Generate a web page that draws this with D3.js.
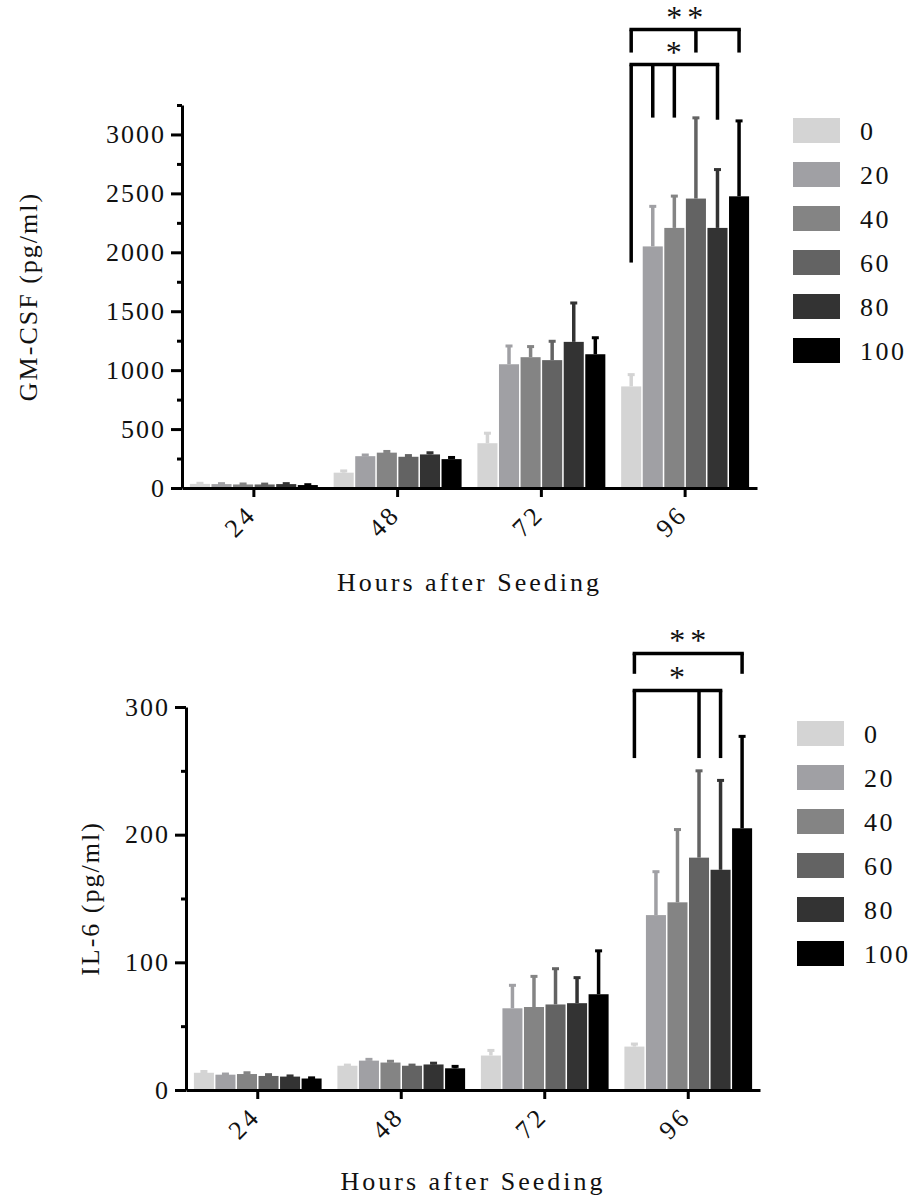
<!DOCTYPE html>
<html>
<head>
<meta charset="utf-8">
<script src="https://cdn.jsdelivr.net/npm/d3@7"></script>
<style>
  body { margin: 0; background: #fff; }
  svg text { fill: #111; }
</style>
</head>
<body>
<script>
// categories
const hours = ["24", "48", "72", "96"];
const doses = ["0", "20", "40", "60", "80", "100"];
const greys = ["#d4d4d4", "#a0a0a4", "#848484", "#636363", "#333333", "#000000"];

// GM-CSF (pg/ml): rows = hours, columns = dose
const gmMean = [
  [35, 33, 30, 30, 33, 25],
  [130, 270, 300, 265, 285, 245],
  [380, 1050, 1110, 1085, 1240, 1135],
  [862, 2050, 2207, 2456, 2207, 2475]
];
const gmSd = [
  [5, 4, 4, 3, 4, 3],
  [15, 10, 10, 10, 14, 14],
  [85, 155, 90, 160, 330, 140],
  [100, 340, 270, 685, 495, 640]
];
const gmTicks = [0, 500, 1000, 1500, 2000, 2500, 3000];
const gmMinor = [250, 750, 1250, 1750, 2250, 2750, 3250];
// significance brackets for the 96 h group (value units)
const gmBrackets = [
  { label: "**", top: 3890, legs: [[0, 3695], [3, 3695], [5, 3695]] },
  { label: "*", top: 3593, legs: [[0, 1913], [1, 3143], [2, 3143], [4, 3125]] }
];

// IL-6 (pg/ml)
const ilMean = [
  [13.5, 12, 12.5, 11, 10.5, 9],
  [19, 23, 21.5, 19, 20, 17],
  [27, 64, 65, 67, 68, 75],
  [34, 137, 147, 182, 172.5, 205]
];
const ilSd = [
  [1, 0.5, 1, 1, 0.5, 0.5],
  [0.5, 1, 1, 0.5, 1, 1.5],
  [4, 18, 24, 28, 20, 34],
  [2, 34, 57, 68, 70, 72]
];
const ilTicks = [0, 100, 200, 300];
const ilMinor = [50, 150, 250];
const ilBrackets = [
  { label: "**", top: 342, legs: [[0, 326], [5, 326]] },
  { label: "*", top: 313, legs: [[0, 260], [3, 260], [4, 260]] }
];

const svg = d3.select("body").append("svg")
  .attr("width", 916)
  .attr("height", 1200);

const serifFont = "'Liberation Serif', 'DejaVu Serif', serif";

const drawPanel = (p) => {
  const g = svg.append("g");

  const x = d3.scaleBand()
    .domain(hours)
    .range([p.x0, p.x1])
    .paddingInner(0.11)
    .paddingOuter(0.055);

  const xi = d3.scaleBand()
    .domain(doses)
    .range([0, x.bandwidth()])
    .paddingInner(0.07);

  const y = d3.scaleLinear()
    .domain([0, p.max])
    .range([p.yBot, p.yTop]);

  const color = d3.scaleOrdinal().domain(doses).range(greys);

  // flatten
  const rows = [];
  hours.forEach((h, i) => {
    doses.forEach((d, j) => {
      rows.push({ h, d, j, mean: p.mean[i][j], sd: p.sd[i][j] });
    });
  });

  const cx = d => x(d.h) + xi(d.d) + xi.bandwidth() / 2;

  // bars
  g.append("g").selectAll("rect")
    .data(rows)
    .join("rect")
    .attr("x", d => x(d.h) + xi(d.d))
    .attr("width", xi.bandwidth())
    .attr("y", d => y(d.mean))
    .attr("height", d => y(0) - y(d.mean))
    .attr("fill", d => color(d.d));

  // error bars (upper only)
  const err = g.append("g");
  err.selectAll("line")
    .data(rows)
    .join("line")
    .attr("x1", cx).attr("x2", cx)
    .attr("y1", d => y(d.mean))
    .attr("y2", d => y(d.mean + d.sd))
    .attr("stroke", d => color(d.d))
    .attr("stroke-width", 3.5);
  err.selectAll("rect")
    .data(rows)
    .join("rect")
    .attr("x", d => cx(d) - 3.5)
    .attr("width", 7)
    .attr("y", d => y(d.mean + d.sd) - 1.5)
    .attr("height", 3)
    .attr("fill", d => color(d.d));

  // y axis
  const yAxis = g.append("g")
    .attr("transform", `translate(${p.x0},0)`)
    .call(d3.axisLeft(y).tickValues(p.ticks).tickSize(11).tickSizeOuter(0).tickPadding(5).tickFormat(d3.format("d")));
  g.append("g")
    .attr("transform", `translate(${p.x0},0)`)
    .call(d3.axisLeft(y).tickValues(p.minor).tickSize(5).tickSizeOuter(0).tickFormat(""))
    .select(".domain").remove();
  g.selectAll(".tick line").attr("stroke", "#000").attr("stroke-width", 3);
  yAxis.select(".domain").attr("stroke", "#000").attr("stroke-width", 3);
  yAxis.selectAll("text")
    .attr("font-family", serifFont)
    .attr("font-size", 26)
    .attr("letter-spacing", 2)
    .attr("fill", "#222");

  // x axis
  const xAxis = g.append("g")
    .attr("transform", `translate(0,${p.yBot})`)
    .call(d3.axisBottom(x).tickSize(9).tickSizeOuter(0).tickFormat(""));
  xAxis.select(".domain").attr("stroke", "#000").attr("stroke-width", 3);
  xAxis.selectAll(".tick line").attr("stroke", "#000").attr("stroke-width", 3);
  xAxis.selectAll(".tick")
    .append("text")
    .attr("transform", "translate(4,28) rotate(-45)")
    .attr("text-anchor", "end")
    .attr("font-family", serifFont)
    .attr("font-size", 26)
    .attr("letter-spacing", 3)
    .attr("fill", "#222")
    .text(d => d);

  // axis titles
  g.append("text")
    .attr("x", (p.x0 + p.x1) / 2)
    .attr("y", p.xTitleY)
    .attr("text-anchor", "middle")
    .attr("font-family", serifFont)
    .attr("font-size", 26)
    .attr("letter-spacing", 3)
    .text("Hours after Seeding");

  g.append("text")
    .attr("transform", `translate(${p.yTitleX},${(p.yTop + p.yBot) / 2}) rotate(-90)`)
    .attr("text-anchor", "middle")
    .attr("dy", "0.35em")
    .attr("font-family", serifFont)
    .attr("font-size", 26)
    .attr("letter-spacing", 2)
    .text(p.yTitle);

  // significance brackets on 96 h
  const last = hours[hours.length - 1];
  const legX = j => x(last) + xi(doses[j]) + xi.bandwidth() / 2;
  p.brackets.forEach(b => {
    const xs = b.legs.map(l => legX(l[0]));
    const bx0 = d3.min(xs), bx1 = d3.max(xs);
    const bg = g.append("g")
      .attr("stroke", "#000")
      .attr("stroke-width", 3.5)
      .attr("fill", "none");
    bg.append("line")
      .attr("x1", bx0 - 1.75).attr("x2", bx1 + 1.75)
      .attr("y1", y(b.top)).attr("y2", y(b.top));
    b.legs.forEach(l => {
      bg.append("line")
        .attr("x1", legX(l[0])).attr("x2", legX(l[0]))
        .attr("y1", y(b.top)).attr("y2", y(l[1]));
    });
    g.append("text")
      .attr("x", (bx0 + bx1) / 2 + 2)
      .attr("y", y(b.top) - 2)
      .attr("text-anchor", "middle")
      .attr("font-family", serifFont)
      .attr("font-size", 32)
      .attr("letter-spacing", 5)
      .attr("fill", "#222")
      .text(b.label);
  });

  // legend
  const lg = g.append("g")
    .attr("transform", `translate(${p.legX},${p.legY})`);
  const items = lg.selectAll("g")
    .data(doses)
    .join("g")
    .attr("transform", (d, i) => `translate(0,${i * 44})`);
  items.append("rect")
    .attr("width", 47)
    .attr("height", 25)
    .attr("fill", d => color(d));
  items.append("text")
    .attr("x", 67)
    .attr("y", 12.5)
    .attr("dy", "0.36em")
    .attr("font-family", serifFont)
    .attr("font-size", 26)
    .attr("letter-spacing", 2.5)
    .attr("fill", "#222")
    .text(d => d);
};

drawPanel({
  x0: 182, x1: 757, yTop: 105, yBot: 488, max: 3250,
  mean: gmMean, sd: gmSd, ticks: gmTicks, minor: gmMinor,
  brackets: gmBrackets, yTitle: "GM-CSF (pg/ml)",
  yTitleX: 28, xTitleY: 591, legX: 793, legY: 118
});

drawPanel({
  x0: 186, x1: 760, yTop: 707, yBot: 1090, max: 300,
  mean: ilMean, sd: ilSd, ticks: ilTicks, minor: ilMinor,
  brackets: ilBrackets, yTitle: "IL-6 (pg/ml)",
  yTitleX: 90, xTitleY: 1190, legX: 797, legY: 721
});
</script>
</body>
</html>
